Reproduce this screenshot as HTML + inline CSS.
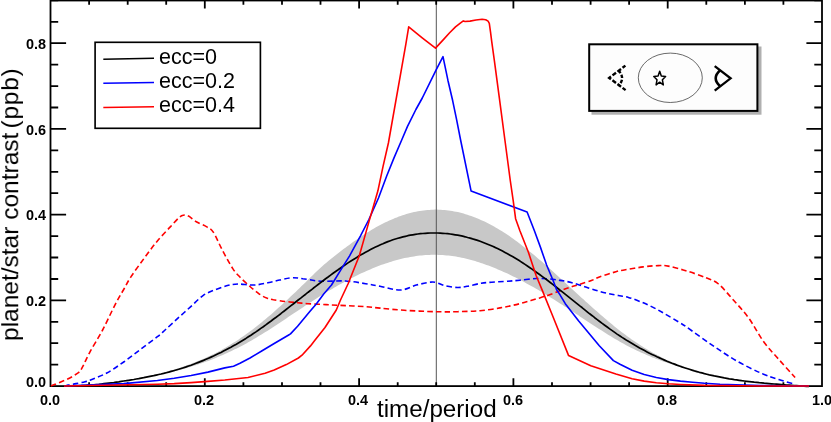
<!DOCTYPE html>
<html><head><meta charset="utf-8"><title>plot</title>
<style>
html,body{margin:0;padding:0;background:#fff;}
body{width:831px;height:422px;position:relative;overflow:hidden;font-family:"Liberation Sans",sans-serif;color:#000;}
.t{position:absolute;white-space:nowrap;line-height:1;will-change:transform;}
.tk{font-weight:bold;font-size:13.9px;transform-origin:0 0;transform:scaleX(1.04);}
.lg{font-size:21.5px;left:159px;transform:translateZ(0);}
</style></head><body>
<svg width="831" height="422" viewBox="0 0 831 422" style="position:absolute;left:0;top:0">
<rect width="831" height="422" fill="#fff"/>
<polygon points="130.0,380.1 131.9,379.7 133.8,379.3 135.7,379.0 137.6,378.6 139.5,378.2 141.4,377.8 143.3,377.4 145.3,377.0 147.2,376.6 149.1,376.1 151.0,375.7 152.9,375.3 154.8,374.8 156.7,374.3 158.6,373.9 160.5,373.4 162.4,372.9 164.3,372.4 166.2,371.9 168.1,371.3 170.0,370.8 171.9,370.2 173.8,369.7 175.8,369.1 177.7,368.5 179.6,367.9 181.5,367.2 183.4,366.6 185.3,365.9 187.2,365.3 189.1,364.6 191.0,363.9 192.9,363.1 194.8,362.4 196.7,361.6 198.6,360.8 200.5,360.0 202.4,359.2 204.3,358.4 206.3,357.5 208.2,356.6 210.1,355.7 212.0,354.8 213.9,353.9 215.8,352.9 217.7,351.9 219.6,350.9 221.5,349.9 223.4,348.8 225.3,347.7 227.2,346.6 229.1,345.5 231.0,344.3 232.9,343.1 234.8,341.9 236.8,340.7 238.7,339.4 240.6,338.1 242.5,336.8 244.4,335.5 246.3,334.1 248.2,332.7 250.1,331.3 252.0,329.9 253.9,328.4 255.8,326.9 257.7,325.4 259.6,323.9 261.5,322.4 263.4,320.8 265.4,319.2 267.3,317.6 269.2,316.0 271.1,314.4 273.0,312.7 274.9,311.0 276.8,309.3 278.7,307.6 280.6,305.9 282.5,304.2 284.4,302.4 286.3,300.7 288.2,298.9 290.1,297.1 292.0,295.3 293.9,293.5 295.9,291.7 297.8,289.8 299.7,288.0 301.6,286.1 303.5,284.3 305.4,282.4 307.3,280.5 309.2,278.6 311.1,276.8 313.0,274.9 314.9,273.1 316.8,271.3 318.7,269.5 320.6,267.7 322.5,266.0 324.4,264.3 326.4,262.7 328.3,261.1 330.2,259.5 332.1,258.0 334.0,256.4 335.9,255.0 337.8,253.5 339.7,252.0 341.6,250.6 343.5,249.1 345.4,247.7 347.3,246.3 349.2,244.9 351.1,243.5 353.0,242.1 354.9,240.7 356.9,239.4 358.8,238.1 360.7,236.8 362.6,235.5 364.5,234.3 366.4,233.1 368.3,231.9 370.2,230.7 372.1,229.5 374.0,228.4 375.9,227.3 377.8,226.3 379.7,225.3 381.6,224.3 383.5,223.3 385.5,222.3 387.4,221.4 389.3,220.6 391.2,219.7 393.1,218.9 395.0,218.1 396.9,217.4 398.8,216.6 400.7,216.0 402.6,215.3 404.5,214.7 406.4,214.1 408.3,213.6 410.2,213.0 412.1,212.6 414.0,212.1 416.0,211.7 417.9,211.3 419.8,211.0 421.7,210.7 423.6,210.4 425.5,210.2 427.4,210.0 429.3,209.9 431.2,209.7 433.1,209.7 435.0,209.6 436.9,209.6 438.8,209.7 440.7,209.7 442.6,209.9 444.5,210.0 446.5,210.2 448.4,210.4 450.3,210.7 452.2,211.0 454.1,211.4 456.0,211.7 457.9,212.1 459.8,212.6 461.7,213.1 463.6,213.6 465.5,214.2 467.4,214.8 469.3,215.4 471.2,216.1 473.1,216.8 475.1,217.5 477.0,218.2 478.9,219.0 480.8,219.9 482.7,220.7 484.6,221.6 486.5,222.6 488.4,223.5 490.3,224.5 492.2,225.5 494.1,226.6 496.0,227.7 497.9,228.8 499.8,229.9 501.7,231.1 503.6,232.3 505.6,233.6 507.5,234.8 509.4,236.1 511.3,237.5 513.2,238.8 515.1,240.2 517.0,241.6 518.9,243.0 520.8,244.4 522.7,245.9 524.6,247.4 526.5,248.9 528.4,250.4 530.3,252.0 532.2,253.6 534.1,255.1 536.1,256.7 538.0,258.4 539.9,260.0 541.8,261.6 543.7,263.3 545.6,265.0 547.5,266.6 549.4,268.3 551.3,270.0 553.2,271.8 555.1,273.5 557.0,275.2 558.9,276.9 560.8,278.7 562.7,280.4 564.6,282.2 566.6,283.9 568.5,285.7 570.4,287.4 572.3,289.2 574.2,290.9 576.1,292.7 578.0,294.4 579.9,296.2 581.8,297.9 583.7,299.6 585.6,301.4 587.5,303.1 589.4,304.8 591.3,306.5 593.2,308.2 595.2,309.9 597.1,311.6 599.0,313.3 600.9,314.9 602.8,316.6 604.7,318.2 606.6,319.8 608.5,321.4 610.4,323.0 612.3,324.6 614.2,326.2 616.1,327.7 618.0,329.2 619.9,330.7 621.8,332.2 623.7,333.6 625.7,335.0 627.6,336.4 629.5,337.8 631.4,339.2 633.3,340.5 635.2,341.8 637.1,343.1 639.0,344.3 640.9,345.6 642.8,346.8 644.7,347.9 646.6,349.1 648.5,350.2 650.4,351.3 652.3,352.4 654.2,353.5 656.2,354.5 658.1,355.5 660.0,356.5 661.9,357.5 663.8,358.4 665.7,359.4 667.6,360.3 669.5,361.1 671.4,362.0 673.3,362.8 675.2,363.6 677.1,364.4 679.0,365.2 680.9,365.9 682.8,366.7 684.7,367.4 686.7,368.0 688.6,368.7 690.5,369.3 692.4,370.0 694.3,370.6 696.2,371.1 698.1,371.7 700.0,372.2 700.0,372.0 698.1,371.6 696.2,371.1 694.3,370.6 692.4,370.2 690.5,369.7 688.6,369.2 686.7,368.7 684.7,368.2 682.8,367.7 680.9,367.1 679.0,366.6 677.1,366.0 675.2,365.4 673.3,364.8 671.4,364.2 669.5,363.6 667.6,363.0 665.7,362.3 663.8,361.7 661.9,361.0 660.0,360.3 658.1,359.6 656.2,358.9 654.2,358.1 652.3,357.4 650.4,356.6 648.5,355.8 646.6,355.0 644.7,354.1 642.8,353.3 640.9,352.4 639.0,351.6 637.1,350.7 635.2,349.7 633.3,348.8 631.4,347.9 629.5,346.9 627.6,345.9 625.7,344.9 623.7,343.8 621.8,342.8 619.9,341.7 618.0,340.6 616.1,339.5 614.2,338.4 612.3,337.2 610.4,336.1 608.5,334.9 606.6,333.7 604.7,332.5 602.8,331.3 600.9,330.1 599.0,328.9 597.1,327.7 595.2,326.4 593.2,325.2 591.3,324.0 589.4,322.7 587.5,321.4 585.6,320.2 583.7,318.9 581.8,317.7 579.9,316.4 578.0,315.1 576.1,313.9 574.2,312.6 572.3,311.4 570.4,310.1 568.5,308.9 566.6,307.6 564.6,306.4 562.7,305.1 560.8,303.9 558.9,302.7 557.0,301.5 555.1,300.3 553.2,299.1 551.3,297.9 549.4,296.7 547.5,295.6 545.6,294.4 543.7,293.2 541.8,292.1 539.9,291.0 538.0,289.8 536.1,288.7 534.1,287.6 532.2,286.6 530.3,285.5 528.4,284.4 526.5,283.4 524.6,282.3 522.7,281.3 520.8,280.3 518.9,279.3 517.0,278.3 515.1,277.3 513.2,276.4 511.3,275.5 509.4,274.5 507.5,273.6 505.6,272.7 503.6,271.9 501.7,271.0 499.8,270.2 497.9,269.4 496.0,268.6 494.1,267.8 492.2,267.0 490.3,266.3 488.4,265.6 486.5,264.9 484.6,264.2 482.7,263.5 480.8,262.9 478.9,262.3 477.0,261.7 475.1,261.1 473.1,260.5 471.2,260.0 469.3,259.5 467.4,259.0 465.5,258.6 463.6,258.1 461.7,257.7 459.8,257.3 457.9,257.0 456.0,256.6 454.1,256.3 452.2,256.1 450.3,255.8 448.4,255.6 446.5,255.4 444.5,255.2 442.6,255.1 440.7,254.9 438.8,254.9 436.9,254.8 435.0,254.8 433.1,254.8 431.2,254.8 429.3,254.9 427.4,255.0 425.5,255.1 423.6,255.2 421.7,255.4 419.8,255.6 417.9,255.8 416.0,256.1 414.0,256.4 412.1,256.7 410.2,257.0 408.3,257.4 406.4,257.7 404.5,258.1 402.6,258.6 400.7,259.0 398.8,259.5 396.9,260.0 395.0,260.5 393.1,261.1 391.2,261.7 389.3,262.3 387.4,262.9 385.5,263.5 383.5,264.2 381.6,264.8 379.7,265.5 377.8,266.3 375.9,267.0 374.0,267.8 372.1,268.6 370.2,269.4 368.3,270.2 366.4,271.0 364.5,271.9 362.6,272.7 360.7,273.6 358.8,274.5 356.9,275.5 354.9,276.4 353.0,277.4 351.1,278.3 349.2,279.3 347.3,280.3 345.4,281.3 343.5,282.4 341.6,283.4 339.7,284.5 337.8,285.6 335.9,286.7 334.0,287.8 332.1,288.9 330.2,290.0 328.3,291.1 326.4,292.3 324.4,293.5 322.5,294.6 320.6,295.8 318.7,297.0 316.8,298.2 314.9,299.4 313.0,300.7 311.1,301.9 309.2,303.1 307.3,304.4 305.4,305.6 303.5,306.9 301.6,308.2 299.7,309.5 297.8,310.7 295.9,312.0 293.9,313.3 292.0,314.6 290.1,315.8 288.2,317.1 286.3,318.4 284.4,319.7 282.5,320.9 280.6,322.2 278.7,323.5 276.8,324.7 274.9,326.0 273.0,327.2 271.1,328.5 269.2,329.7 267.3,330.9 265.4,332.1 263.4,333.3 261.5,334.5 259.6,335.6 257.7,336.8 255.8,337.9 253.9,339.1 252.0,340.2 250.1,341.3 248.2,342.3 246.3,343.4 244.4,344.4 242.5,345.4 240.6,346.4 238.7,347.4 236.8,348.4 234.8,349.3 232.9,350.3 231.0,351.2 229.1,352.1 227.2,353.0 225.3,353.8 223.4,354.7 221.5,355.5 219.6,356.3 217.7,357.1 215.8,357.9 213.9,358.7 212.0,359.4 210.1,360.2 208.2,360.9 206.3,361.6 204.3,362.3 202.4,363.0 200.5,363.6 198.6,364.3 196.7,364.9 194.8,365.5 192.9,366.1 191.0,366.7 189.1,367.3 187.2,367.8 185.3,368.4 183.4,368.9 181.5,369.5 179.6,370.0 177.7,370.5 175.8,371.0 173.8,371.4 171.9,371.9 170.0,372.4 168.1,372.8 166.2,373.3 164.3,373.7 162.4,374.1 160.5,374.5 158.6,374.9 156.7,375.3 154.8,375.7 152.9,376.1 151.0,376.4 149.1,376.8 147.2,377.1 145.3,377.5 143.3,377.8 141.4,378.2 139.5,378.5 137.6,378.8 135.7,379.1 133.8,379.4 131.9,379.7 130.0,380.0" fill="#c8c8c8"/>
<line x1="436.3" y1="1" x2="436.3" y2="386" stroke="#555" stroke-width="1"/>
<rect x="50.5" y="0.5" width="771.5" height="385.6" fill="none" stroke="#000" stroke-width="1.8"/>
<path d="M89.1 386.1 v-3.8 M89.1 0.5 v4.2 M127.7 386.1 v-3.8 M127.7 0.5 v4.2 M166.2 386.1 v-3.8 M166.2 0.5 v4.2 M204.8 386.1 v-7.9 M204.8 0.5 v7.9 M243.4 386.1 v-3.8 M243.4 0.5 v4.2 M282.0 386.1 v-3.8 M282.0 0.5 v4.2 M320.5 386.1 v-3.8 M320.5 0.5 v4.2 M359.1 386.1 v-7.9 M359.1 0.5 v7.9 M397.7 386.1 v-3.8 M397.7 0.5 v4.2 M436.2 386.1 v-3.8 M436.2 0.5 v4.2 M474.8 386.1 v-3.8 M474.8 0.5 v4.2 M513.4 386.1 v-7.9 M513.4 0.5 v7.9 M552.0 386.1 v-3.8 M552.0 0.5 v4.2 M590.6 386.1 v-3.8 M590.6 0.5 v4.2 M629.1 386.1 v-3.8 M629.1 0.5 v4.2 M667.7 386.1 v-7.9 M667.7 0.5 v7.9 M706.3 386.1 v-3.8 M706.3 0.5 v4.2 M744.9 386.1 v-3.8 M744.9 0.5 v4.2 M783.4 386.1 v-3.8 M783.4 0.5 v4.2 M50.5 364.7 h7.7 M822.0 364.7 h-7.7 M50.5 343.2 h7.7 M822.0 343.2 h-7.7 M50.5 321.8 h7.7 M822.0 321.8 h-7.7 M50.5 300.4 h15.6 M822.0 300.4 h-15.6 M50.5 279.0 h7.7 M822.0 279.0 h-7.7 M50.5 257.5 h7.7 M822.0 257.5 h-7.7 M50.5 236.1 h7.7 M822.0 236.1 h-7.7 M50.5 214.7 h15.6 M822.0 214.7 h-15.6 M50.5 193.2 h7.7 M822.0 193.2 h-7.7 M50.5 171.8 h7.7 M822.0 171.8 h-7.7 M50.5 150.4 h7.7 M822.0 150.4 h-7.7 M50.5 128.9 h15.6 M822.0 128.9 h-15.6 M50.5 107.5 h7.7 M822.0 107.5 h-7.7 M50.5 86.1 h7.7 M822.0 86.1 h-7.7 M50.5 64.6 h7.7 M822.0 64.6 h-7.7 M50.5 43.2 h15.6 M822.0 43.2 h-15.6 M50.5 21.8 h7.7 M822.0 21.8 h-7.7 M50.5 0.4 h7.7 M822.0 0.4 h-7.7" stroke="#000" stroke-width="1.8" fill="none"/>
<path d="M51.0 386.0 C53.8 384.8 63.1 381.2 67.7 379.0 C72.3 376.8 76.4 374.0 78.5 372.6 C80.6 371.2 79.7 371.7 80.5 370.5 C81.3 369.3 81.9 368.3 83.5 365.2 C85.1 362.1 86.8 357.8 90.0 351.9 C93.2 346.0 98.4 338.0 102.6 330.0 C106.8 322.0 111.9 310.8 115.4 304.1 C118.9 297.4 120.8 294.6 123.4 290.0 C126.0 285.4 127.7 281.7 131.2 276.4 C134.7 271.1 139.9 264.1 144.2 258.2 C148.5 252.3 152.8 246.4 157.2 241.2 C161.5 236.0 166.6 230.9 170.3 226.9 C174.0 222.9 177.2 219.2 179.4 217.3 C181.6 215.4 181.8 215.4 183.3 215.2 C184.8 215.0 186.3 214.9 188.5 216.0 C190.7 217.1 193.2 219.9 196.3 221.7 C199.4 223.5 204.0 225.2 206.8 226.9 C209.6 228.6 210.7 228.2 213.3 232.1 C215.9 236.0 219.2 244.2 222.4 250.3 C225.7 256.4 229.8 264.0 232.8 268.6 C235.8 273.2 237.7 274.7 240.6 277.7 C243.5 280.7 247.5 284.2 250.0 286.5 C252.5 288.8 253.9 289.7 255.8 291.2 C257.7 292.7 259.4 294.2 261.3 295.4 C263.2 296.6 265.3 297.5 267.3 298.2 C269.3 298.9 270.4 299.1 273.4 299.7 C276.4 300.2 281.5 301.0 285.5 301.5 C289.5 302.0 293.9 302.3 297.6 302.7 C301.4 303.1 303.2 303.4 308.0 303.7 C312.8 304.0 320.7 304.3 326.1 304.6 C331.5 304.9 333.9 305.1 340.5 305.4 C347.1 305.7 359.0 306.2 365.6 306.6 C372.2 307.1 373.6 307.5 380.0 308.1 C386.4 308.7 394.8 309.7 404.2 310.3 C413.6 310.9 427.3 311.5 436.2 311.7 C445.1 311.9 450.1 311.9 457.4 311.7 C464.7 311.5 472.9 311.3 480.0 310.7 C487.1 310.1 494.6 308.8 500.0 307.9 C505.4 307.0 508.1 306.4 512.1 305.5 C516.1 304.6 520.2 303.6 524.2 302.5 C528.2 301.4 532.3 300.1 536.3 298.9 C540.3 297.7 544.4 296.6 548.4 295.2 C552.4 293.8 556.5 292.0 560.0 290.7 C563.5 289.4 566.5 288.4 569.7 287.3 C572.9 286.2 575.6 285.6 579.4 284.4 C583.2 283.2 589.2 281.3 592.6 280.0 C596.0 278.7 596.1 278.2 600.0 276.8 C603.9 275.4 612.1 272.8 615.9 271.7 C619.7 270.6 618.5 271.0 623.0 270.2 C627.5 269.4 637.2 267.7 643.1 266.9 C649.0 266.1 654.0 265.7 658.2 265.6 C662.4 265.5 663.6 265.2 668.2 266.1 C672.8 267.0 679.5 268.8 685.8 270.7 C692.1 272.6 700.4 275.5 705.9 277.7 C711.4 279.9 713.9 280.2 718.5 284.0 C723.1 287.8 728.6 294.7 733.6 300.3 C738.6 305.9 743.6 311.0 748.6 317.9 C753.6 324.8 758.7 334.9 763.7 341.8 C768.7 348.7 773.6 353.4 778.8 359.4 C784.0 365.3 792.4 374.5 795.1 377.5" fill="none" stroke="#ff0000" stroke-width="1.6" stroke-dasharray="5.5 3.2"/>
<path d="M64.5 386.3 C65.1 386.1 66.1 385.4 68.0 385.0 C69.9 384.6 73.2 384.2 76.0 383.6 C78.8 383.1 82.7 382.3 85.0 381.7 C87.3 381.1 86.4 381.6 90.0 380.2 C93.6 378.8 101.2 376.0 106.8 373.0 C112.4 370.0 118.1 365.9 123.7 362.0 C129.3 358.1 134.9 353.6 140.5 349.4 C146.1 345.2 153.2 340.0 157.4 336.7 C161.6 333.4 162.1 332.6 165.6 329.5 C169.1 326.4 174.0 321.7 178.2 317.9 C182.4 314.1 186.6 310.4 190.8 306.6 C195.0 302.8 199.1 298.2 203.3 295.3 C207.5 292.4 211.7 291.2 215.9 289.5 C220.1 287.8 224.6 286.2 228.4 285.3 C232.2 284.4 234.1 284.1 238.5 284.0 C242.9 283.9 249.3 285.4 255.0 285.0 C260.7 284.6 266.8 282.9 272.7 281.7 C278.6 280.5 285.2 278.4 290.2 277.9 C295.2 277.4 297.8 278.1 302.8 278.7 C307.8 279.2 313.3 280.8 320.4 281.2 C327.5 281.6 338.0 280.6 345.5 281.0 C353.0 281.4 359.9 282.8 365.6 283.7 C371.4 284.6 374.2 285.2 380.0 286.3 C385.8 287.4 394.6 290.2 400.6 290.0 C406.7 289.8 411.3 286.4 416.3 285.1 C421.3 283.8 427.4 282.5 430.8 282.1 C434.2 281.7 434.4 282.1 436.8 282.7 C439.2 283.3 441.9 284.9 445.3 285.7 C448.7 286.5 453.8 287.4 457.4 287.5 C461.0 287.6 463.3 287.0 467.1 286.3 C470.9 285.6 476.4 284.1 480.0 283.5 C483.6 282.9 483.9 282.8 488.6 282.4 C493.3 282.0 502.8 281.6 508.0 281.2 C513.2 280.8 515.3 280.6 520.0 280.2 C524.7 279.8 531.6 278.7 536.3 278.5 C541.0 278.3 544.4 278.6 548.4 278.9 C552.4 279.2 556.5 279.9 560.0 280.4 C563.5 280.9 566.5 281.4 569.7 282.1 C572.9 282.9 576.1 283.9 579.4 284.9 C582.6 285.9 586.0 287.2 589.2 288.3 C592.5 289.4 595.7 290.3 598.9 291.2 C602.1 292.1 605.4 292.9 608.6 293.6 C611.8 294.3 615.0 294.9 618.3 295.5 C621.6 296.1 624.7 296.4 628.4 297.4 C632.1 298.4 636.5 300.1 640.5 301.7 C644.5 303.3 648.6 305.1 652.6 307.1 C656.6 309.1 660.0 311.1 664.6 313.7 C669.2 316.3 676.5 320.7 680.0 322.8 C683.5 324.9 680.6 322.9 685.8 326.5 C691.0 330.1 702.6 338.6 711.0 344.3 C719.4 350.0 727.7 355.8 736.1 360.6 C744.5 365.4 754.1 370.1 761.2 373.2 C768.3 376.3 773.3 377.7 778.8 379.5 C784.2 381.3 791.4 383.2 793.9 384.0" fill="none" stroke="#0000ff" stroke-width="1.6" stroke-dasharray="5.5 3.2"/>
<polyline points="64.0,386.1 66.5,386.1 69.0,386.1 71.5,386.1 74.0,386.0 76.5,385.9 78.9,385.8 81.4,385.7 83.9,385.5 86.4,385.4 88.9,385.2 91.4,385.0 93.9,384.8 96.4,384.5 98.9,384.3 101.4,384.0 103.9,383.7 106.4,383.4 108.8,383.1 111.3,382.8 113.8,382.5 116.3,382.1 118.8,381.8 121.3,381.4 123.8,381.0 126.3,380.7 128.8,380.3 131.3,379.9 133.8,379.5 136.3,379.0 138.7,378.6 141.2,378.1 143.7,377.7 146.2,377.2 148.7,376.7 151.2,376.2 153.7,375.7 156.2,375.1 158.7,374.5 161.2,374.0 163.7,373.4 166.2,372.7 168.6,372.1 171.1,371.4 173.6,370.7 176.1,370.0 178.6,369.3 181.1,368.5 183.6,367.7 186.1,366.9 188.6,366.0 191.1,365.2 193.6,364.3 196.1,363.3 198.5,362.4 201.0,361.4 203.5,360.4 206.0,359.3 208.5,358.2 211.0,357.1 213.5,356.0 216.0,354.8 218.5,353.6 221.0,352.4 223.5,351.1 226.0,349.8 228.4,348.5 230.9,347.2 233.4,345.8 235.9,344.4 238.4,342.9 240.9,341.4 243.4,339.9 245.9,338.4 248.4,336.8 250.9,335.2 253.4,333.5 255.9,331.9 258.3,330.2 260.8,328.4 263.3,326.7 265.8,324.9 268.3,323.0 270.8,321.2 273.3,319.3 275.8,317.5 278.3,315.6 280.8,313.7 283.3,311.7 285.8,309.8 288.2,307.9 290.7,305.9 293.2,304.0 295.7,302.0 298.2,300.0 300.7,298.1 303.2,296.1 305.7,294.2 308.2,292.2 310.7,290.3 313.2,288.3 315.7,286.4 318.1,284.5 320.6,282.6 323.1,280.7 325.6,278.8 328.1,277.0 330.6,275.1 333.1,273.3 335.6,271.5 338.1,269.8 340.6,268.0 343.1,266.3 345.6,264.6 348.0,262.9 350.5,261.3 353.0,259.7 355.5,258.2 358.0,256.6 360.5,255.1 363.0,253.7 365.5,252.3 368.0,250.9 370.5,249.6 373.0,248.3 375.5,247.1 377.9,245.9 380.4,244.7 382.9,243.7 385.4,242.6 387.9,241.6 390.4,240.7 392.9,239.8 395.4,239.0 397.9,238.3 400.4,237.6 402.9,236.9 405.4,236.3 407.8,235.7 410.3,235.2 412.8,234.8 415.3,234.4 417.8,234.0 420.3,233.7 422.8,233.5 425.3,233.3 427.8,233.1 430.3,233.0 432.8,233.0 435.3,233.0 437.7,233.0 440.2,233.1 442.7,233.3 445.2,233.5 447.7,233.7 450.2,234.0 452.7,234.4 455.2,234.8 457.7,235.2 460.2,235.7 462.7,236.2 465.2,236.8 467.6,237.5 470.1,238.1 472.6,238.9 475.1,239.6 477.6,240.4 480.1,241.3 482.6,242.2 485.1,243.2 487.6,244.2 490.1,245.2 492.6,246.3 495.1,247.4 497.5,248.6 500.0,249.8 502.5,251.1 505.0,252.4 507.5,253.8 510.0,255.2 512.5,256.6 515.0,258.1 517.5,259.6 520.0,261.1 522.5,262.7 525.0,264.4 527.4,266.0 529.9,267.7 532.4,269.4 534.9,271.2 537.4,273.0 539.9,274.8 542.4,276.6 544.9,278.4 547.4,280.3 549.9,282.2 552.4,284.1 554.9,286.0 557.3,288.0 559.8,290.0 562.3,291.9 564.8,293.9 567.3,295.9 569.8,297.9 572.3,299.9 574.8,301.9 577.3,303.9 579.8,305.9 582.3,307.8 584.8,309.8 587.2,311.8 589.7,313.8 592.2,315.7 594.7,317.7 597.2,319.6 599.7,321.5 602.2,323.4 604.7,325.2 607.2,327.0 609.7,328.9 612.2,330.6 614.7,332.4 617.1,334.1 619.6,335.7 622.1,337.4 624.6,339.0 627.1,340.6 629.6,342.1 632.1,343.6 634.6,345.1 637.1,346.5 639.6,347.9 642.1,349.2 644.6,350.6 647.0,351.9 649.5,353.2 652.0,354.4 654.5,355.6 657.0,356.8 659.5,357.9 662.0,359.0 664.5,360.1 667.0,361.2 669.5,362.2 672.0,363.2 674.5,364.1 676.9,365.1 679.4,366.0 681.9,366.9 684.4,367.7 686.9,368.5 689.4,369.3 691.9,370.1 694.4,370.9 696.9,371.6 699.4,372.3 701.9,372.9 704.4,373.6 706.8,374.2 709.3,374.8 711.8,375.3 714.3,375.9 716.8,376.4 719.3,376.9 721.8,377.4 724.3,377.9 726.8,378.3 729.3,378.8 731.8,379.2 734.3,379.6 736.7,379.9 739.2,380.3 741.7,380.7 744.2,381.0 746.7,381.3 749.2,381.6 751.7,381.9 754.2,382.2 756.7,382.4 759.2,382.7 761.7,382.9 764.2,383.2 766.6,383.4 769.1,383.6 771.6,383.8 774.1,384.0 776.6,384.2 779.1,384.4 781.6,384.6 784.1,384.8 786.6,385.0 789.1,385.1 791.6,385.3 794.1,385.5 796.5,385.6 799.0,385.8 801.5,386.0 804.0,386.1 806.5,386.3 809.0,386.4" fill="none" stroke="#000" stroke-width="1.7" stroke-linejoin="round"/>
<polyline points="64.0,386.0 123.7,383.6 157.4,380.5 174.2,378.3 191.1,375.5 207.9,372.1 224.8,367.9 233.5,366.2 240.0,363.3 250.0,358.0 262.1,350.7 274.2,343.5 288.7,335.0 290.5,333.9 297.6,326.3 309.6,311.8 316.5,303.7 323.7,294.0 331.5,285.0 340.5,270.4 349.6,255.8 360.5,235.8 368.9,219.5 378.5,198.0 386.6,176.3 393.9,158.1 401.7,140.0 407.5,126.4 415.9,109.5 422.3,98.0 436.4,69.3 443.0,56.7 447.9,80.2 452.7,100.8 456.5,119.2 460.6,140.0 471.1,191.1 527.1,212.0 534.4,230.8 540.5,247.4 546.6,265.0 553.2,280.7 556.6,289.8 560.0,294.8 565.3,303.7 578.5,320.8 599.3,345.8 613.4,360.6 620.0,364.2 632.1,370.3 644.2,374.5 656.3,377.5 668.4,379.6 680.5,381.1 692.6,382.3 704.6,383.3 720.0,384.2 760.0,385.5 809.0,386.0" fill="none" stroke="#0000ff" stroke-width="1.6" stroke-linejoin="round"/>
<polyline points="64.0,386.0 157.4,384.2 174.2,383.6 191.1,382.6 207.9,381.4 224.8,380.0 248.0,377.5 265.1,373.2 274.2,370.1 286.3,364.6 298.4,358.0 302.0,355.2 310.5,345.9 314.5,340.8 325.0,327.5 336.3,310.0 340.5,300.0 348.0,284.0 359.3,255.8 364.1,238.9 368.9,221.9 373.8,205.0 377.9,190.8 383.0,166.6 388.4,143.0 402.9,60.8 405.9,43.9 408.7,26.9 422.2,37.8 435.5,48.1 443.4,39.6 449.4,33.0 455.5,26.9 460.3,23.1 463.3,20.9 465.1,21.5 470.0,21.1 476.0,20.0 482.1,19.3 485.7,19.7 488.1,21.1 489.3,23.3 490.5,31.8 491.7,41.4 494.4,60.8 499.0,95.3 504.9,140.0 510.2,180.0 513.2,200.6 515.6,218.7 519.9,230.8 528.4,252.2 532.6,265.0 536.2,275.8 542.3,290.4 552.6,315.8 568.6,355.6 590.8,365.7 615.9,374.0 632.1,378.7 644.2,381.1 656.3,382.7 668.4,383.8 680.5,384.5 704.6,385.4 760.0,386.0 809.0,386.0" fill="none" stroke="#ff0000" stroke-width="1.6" stroke-linejoin="round"/>
<rect x="95.1" y="42.3" width="165.3" height="86" fill="#fff" stroke="#000" stroke-width="1.65"/>
<line x1="103.3" y1="59.2" x2="154" y2="58.3" stroke="#000" stroke-width="1.5"/>
<line x1="103.3" y1="83.3" x2="154" y2="82.4" stroke="#0000ff" stroke-width="1.5"/>
<line x1="103.3" y1="107.4" x2="154" y2="106.7" stroke="#ff0000" stroke-width="1.5"/>
<defs><filter id="sh" x="-10%" y="-10%" width="130%" height="140%"><feGaussianBlur stdDeviation="0.5"/></filter></defs>
<rect x="591.5" y="46.5" width="170" height="68.2" fill="#b0b0b0" filter="url(#sh)"/>
<rect x="589.2" y="44.3" width="168.2" height="66.6" fill="#fdfdfd" stroke="#000" stroke-width="2"/>
<ellipse cx="670.3" cy="77.8" rx="32" ry="24.7" fill="none" stroke="#444" stroke-width="0.8"/>
<polygon points="659.7,71.3 661.3,76.1 665.6,76.5 662.4,79.8 663.3,84.9 659.7,82.2 656.1,84.9 657.0,79.8 653.8,76.5 658.1,76.1" fill="#fff" stroke="#000" stroke-width="1.5" stroke-linejoin="round"/>
<path d="M625.4 65.6 L609.2 77.9 L625.6 90.1" fill="none" stroke="#000" stroke-width="2.4" stroke-dasharray="4.4 1.9" stroke-dashoffset="0.8"/><path d="M618.3 70.3 Q625.9 78.2 618.3 86" fill="none" stroke="#000" stroke-width="2.4" stroke-dasharray="3.5 1.8"/>
<path d="M714.7 66.2 L730.6 78.3 L714.7 90.7" fill="none" stroke="#000" stroke-width="2.3" stroke-linejoin="miter"/>
<path d="M720.2 70.3 Q711.2 78.3 720.2 86.3" fill="none" stroke="#000" stroke-width="2.6"/>
</svg>
<div class="t lg" style="top:46.6px">ecc=0</div>
<div class="t lg" style="top:70.5px">ecc=0.2</div>
<div class="t lg" style="top:95.0px">ecc=0.4</div>
<div class="t" id="xl" style="font-size:24.2px;left:376.7px;top:397.0px;transform:translateZ(0)">time/period</div>
<div class="t" id="yl" style="font-size:24.5px;left:0;top:0;transform-origin:0 0;transform:translate(-1.8px,341.0px) rotate(-90deg)">planet/star contrast<span style="letter-spacing:0.75px;word-spacing:-3.4px"> (ppb)</span></div>
<div class="t tk" style="left:26.4px;top:38.1px">0.8</div>
<div class="t tk" style="left:26.4px;top:123.6px">0.6</div>
<div class="t tk" style="left:26.4px;top:209.2px">0.4</div>
<div class="t tk" style="left:26.4px;top:294.8px">0.2</div>
<div class="t tk" style="left:26.4px;top:376.3px">0.0</div>
<div class="t tk" style="left:39.8px;top:394.4px">0.0</div>
<div class="t tk" style="left:194px;top:394.4px">0.2</div>
<div class="t tk" style="left:348.2px;top:394.4px">0.4</div>
<div class="t tk" style="left:502.5px;top:394.4px">0.6</div>
<div class="t tk" style="left:656.5px;top:394.4px">0.8</div>
<div class="t tk" style="left:812.3px;top:394.4px">1.0</div>
</body></html>
